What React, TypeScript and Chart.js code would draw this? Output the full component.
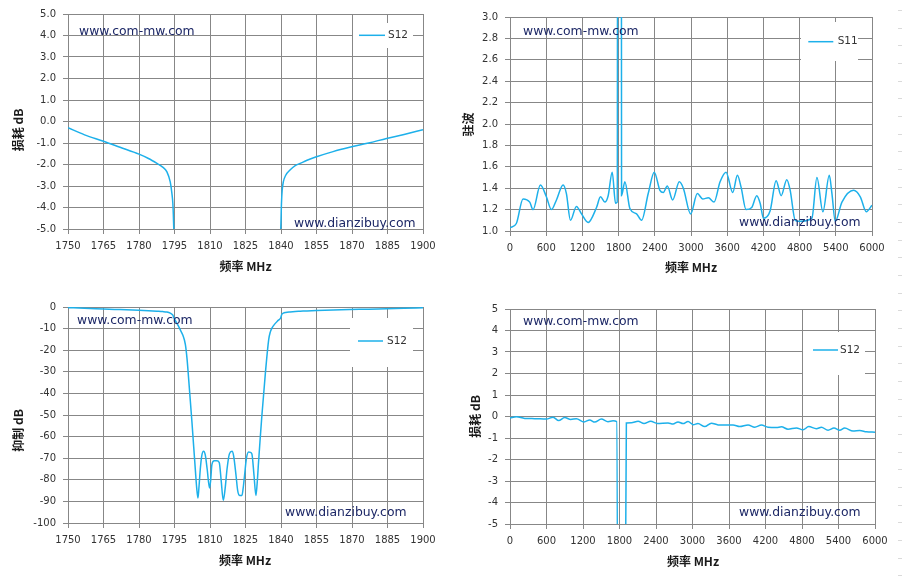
import { useEffect, useRef } from 'react';
import { Chart, registerables } from 'chart.js';

Chart.register(...registerables);

// ---------- data ----------
// narrow-band filter response S12 (dB), 1750-1900 MHz (used by both left charts)
const filterFreq = [1750, 1757, 1765, 1772, 1780, 1784, 1787.6, 1790, 1791.8, 1793.2, 1793.9, 1794.3, 1794.5, 1794.7, 1795.5, 1796.5, 1797.4, 1798.5, 1799.6, 1800.3, 1801.0, 1802.4, 1803.8, 1804.4, 1804.9, 1805.3, 1805.9, 1806.5, 1807.3, 1808.0, 1808.8, 1809.8, 1810.3, 1810.8, 1811.8, 1812.9, 1813.9, 1814.7, 1815.6, 1816.4, 1817.2, 1818.2, 1819.3, 1820.0, 1821.0, 1821.7, 1822.6, 1823.5, 1824.0, 1824.6, 1825.4, 1826.3, 1827.1, 1827.7, 1828.6, 1829.4, 1829.9, 1830.5, 1831.2, 1831.9, 1833.4, 1834.8, 1835.5, 1836.2, 1837.5, 1838.8, 1839.9, 1840.2, 1840.5, 1841, 1842, 1843.8, 1846, 1848.1, 1851, 1855, 1862, 1869, 1877, 1884.6, 1892, 1900];
const filterS12 = [-0.29, -0.62, -0.92, -1.2, -1.52, -1.72, -1.95, -2.12, -2.34, -2.81, -3.34, -3.8, -4.3, -5.0, -6.5, -8.5, -10.5, -13, -17.4, -24, -33.6, -53.7, -75.3, -84, -88.4, -84, -75, -69, -66.8, -68.5, -75, -83.8, -80, -73, -71.2, -71.2, -72, -80, -89.5, -84, -75, -68, -66.8, -69, -78, -85, -87.3, -87.3, -84, -78, -70, -67.1, -67.3, -68, -78, -87.3, -82, -72, -61, -50.6, -30.6, -15.1, -11.5, -9.7, -7.7, -6.2, -5.0, -3.8, -3.2, -2.8, -2.5, -2.26, -2.05, -1.95, -1.8, -1.64, -1.4, -1.2, -1.0, -0.79, -0.6, -0.38];

// wide-band VSWR (S11), 0-6000 MHz
const vswrFreq = [0, 105, 216, 327, 382, 504, 603, 686, 770, 880, 935, 1002, 1101, 1185, 1295, 1434, 1500, 1572, 1627, 1694, 1749, 1777, 1795, 1838, 1849, 1904, 1987, 2098, 2181, 2291, 2391, 2485, 2541, 2607, 2696, 2806, 2873, 2994, 3105, 3194, 3288, 3382, 3482, 3581, 3692, 3769, 3830, 3913, 4007, 4090, 4146, 4201, 4312, 4411, 4494, 4588, 4644, 4727, 4810, 5004, 5087, 5186, 5292, 5336, 5391, 5502, 5696, 5806, 5906, 6000];
const vswrS11 = [1.03, 1.07, 1.30, 1.27, 1.20, 1.43, 1.32, 1.20, 1.29, 1.43, 1.35, 1.10, 1.23, 1.16, 1.08, 1.22, 1.32, 1.27, 1.33, 1.55, 1.26, 1.27, 12, 12, 1.33, 1.46, 1.21, 1.16, 1.10, 1.35, 1.55, 1.38, 1.36, 1.42, 1.29, 1.46, 1.40, 1.16, 1.35, 1.30, 1.31, 1.27, 1.46, 1.55, 1.36, 1.52, 1.41, 1.20, 1.22, 1.33, 1.26, 1.12, 1.19, 1.47, 1.33, 1.48, 1.38, 1.10, 1.09, 1.12, 1.50, 1.18, 1.52, 1.35, 1.09, 1.27, 1.38, 1.32, 1.18, 1.24];

// wide-band loss S12 (dB), 0-6000 MHz
const wideFreq = [0, 105, 242, 406, 598, 708, 800, 899, 998, 1091, 1217, 1310, 1392, 1502, 1611, 1694, 1754, 1795, 1850, 1913, 1996, 2105, 2203, 2313, 2423, 2598, 2680, 2762, 2844, 2927, 3010, 3090, 3201, 3311, 3420, 3530, 3666, 3776, 3913, 4023, 4133, 4242, 4379, 4462, 4570, 4708, 4817, 4910, 5037, 5119, 5228, 5326, 5420, 5502, 5639, 5749, 5859, 6000];
const wideS12 = [-0.07, -0.01, -0.09, -0.1, -0.12, -0.03, -0.19, -0.05, -0.14, -0.1, -0.25, -0.16, -0.26, -0.12, -0.24, -0.2, -0.24, -30, -30, -0.3, -0.29, -0.22, -0.33, -0.22, -0.32, -0.3, -0.35, -0.25, -0.33, -0.23, -0.38, -0.33, -0.47, -0.31, -0.39, -0.4, -0.39, -0.47, -0.39, -0.5, -0.4, -0.5, -0.51, -0.48, -0.59, -0.53, -0.62, -0.47, -0.57, -0.5, -0.64, -0.54, -0.64, -0.54, -0.68, -0.65, -0.71, -0.73];

// axis ranges / labels
const narrowRange = [1750, 1900, 15];
const wideRange = [0, 6000, 600];
const lossNarrowY = [-5, 5, 1];
const vswrY = [1, 3, 0.2];
const rejectY = [-100, 0, 10];
const lossWideY = [-5, 5, 1];
const xTitleText = '频率 MHz';
const watermarkTop = 'www.com-mw.com';
const watermarkBottom = 'www.dianzibuy.com';

// ---------- styles ----------
const LINE = '#1db0ea';
const GRID = '#878787';
const TICK = '#333333';
const MARK = '#1c2766';
const TICK_FONT = { family: '"DejaVu Sans", Verdana, sans-serif', size: 10 };

type Spec = {
  left: number; top: number; width: number; height: number;
  xs: number[]; ys: number[];
  xr: number[]; yr: number[]; yDec: number;
  yAxisW: number; xAxisH: number; padTop: number; padRight: number;
  label: string;
  box: number[]; line: number[]; text: number[];
  marks: [string, number, number][];
  yTitle: string; yTitlePos: number[]; xTitlePos: number[];
};

const specs: Spec[] = [
  {
    left: 0, top: 0, width: 450, height: 288,
    xs: filterFreq, ys: filterS12, xr: narrowRange, yr: lossNarrowY, yDec: 1,
    yAxisW: 68, xAxisH: 59, padTop: 14, padRight: 27,
    label: 'S12', box: [285, 9, 60, 25], line: [291, 317, 21.3], text: [320, 21.5],
    marks: [[watermarkTop, 11, 17.7], [watermarkBottom, 226, 210]],
    yTitle: '损耗 dB', yTitlePos: [-50, 116], xTitlePos: [177.5, 252],
  },
  {
    left: 451, top: 0, width: 451, height: 288,
    xs: vswrFreq, ys: vswrS11, xr: wideRange, yr: vswrY, yDec: 1,
    yAxisW: 59, xAxisH: 57, padTop: 17, padRight: 30,
    label: 'S11', box: [291, 5, 57, 39], line: [298.3, 323.3, 24.7], text: [327.7, 24.7],
    marks: [[watermarkTop, 13, 14.7], [watermarkBottom, 229, 206]],
    yTitle: '驻波', yTitlePos: [-41.7, 107.5], xTitlePos: [181, 250.3],
  },
  {
    left: 0, top: 288, width: 450, height: 289,
    xs: filterFreq, ys: filterS12, xr: narrowRange, yr: rejectY, yDec: 0,
    yAxisW: 68, xAxisH: 54, padTop: 19, padRight: 27,
    label: 'S12', box: [282, 11, 63, 49], line: [290, 315, 34], text: [319, 34],
    marks: [[watermarkTop, 9, 13.7], [watermarkBottom, 217, 206]],
    yTitle: '抑制 dB', yTitlePos: [-50, 123.5], xTitlePos: [177, 253.7],
  },
  {
    left: 451, top: 288, width: 451, height: 289,
    xs: wideFreq, ys: wideS12, xr: wideRange, yr: lossWideY, yDec: 0,
    yAxisW: 59, xAxisH: 53, padTop: 21, padRight: 27,
    label: 'S12', box: [293, 23, 62, 43], line: [303, 328, 41], text: [330, 41],
    marks: [[watermarkTop, 13, 12.7], [watermarkBottom, 229, 204]],
    yTitle: '损耗 dB', yTitlePos: [-35, 107.5], xTitlePos: [183, 252.7],
  },
];

function makeOverlay(s: Spec) {
  return {
    id: 'overlay',
    beforeDatasetsDraw(chart: any) {
      const { ctx, chartArea: a } = chart;
      ctx.save();
      ctx.fillStyle = '#ffffff';
      ctx.fillRect(a.left + s.box[0], a.top + s.box[1], s.box[2], s.box[3]);
      ctx.strokeStyle = LINE;
      ctx.lineWidth = 1.5;
      ctx.beginPath();
      ctx.moveTo(a.left + s.line[0], a.top + s.line[2]);
      ctx.lineTo(a.left + s.line[1], a.top + s.line[2]);
      ctx.stroke();
      ctx.fillStyle = TICK;
      ctx.font = '10.5px "DejaVu Sans", Verdana, sans-serif';
      ctx.textAlign = 'left';
      ctx.textBaseline = 'middle';
      ctx.fillText(s.label, a.left + s.text[0], a.top + s.text[1]);
      ctx.restore();
    },
    afterDatasetsDraw(chart: any) {
      const { ctx, chartArea: a } = chart;
      ctx.save();
      ctx.fillStyle = MARK;
      ctx.font = '12.4px "DejaVu Sans", Verdana, sans-serif';
      ctx.textAlign = 'left';
      ctx.textBaseline = 'middle';
      for (const [t, x, y] of s.marks) ctx.fillText(t, a.left + x, a.top + y);
      ctx.restore();
    },
    afterDraw(chart: any) {
      const { ctx, chartArea: a } = chart;
      ctx.save();
      ctx.fillStyle = '#1a1a1a';
      ctx.font = 'bold 12px "Noto Sans CJK SC", sans-serif';
      ctx.textAlign = 'center';
      ctx.textBaseline = 'middle';
      ctx.fillText(xTitleText, a.left + s.xTitlePos[0], a.top + s.xTitlePos[1]);
      ctx.translate(a.left + s.yTitlePos[0], a.top + s.yTitlePos[1]);
      ctx.rotate(-Math.PI / 2);
      ctx.fillText(s.yTitle, 0, 0);
      ctx.restore();
    },
  };
}

function makeConfig(s: Spec): any {
  return {
    type: 'line',
    data: {
      datasets: [
        {
          label: s.label,
          data: s.xs.map((x, i) => ({ x, y: s.ys[i] })),
          borderColor: LINE,
          borderWidth: 1.5,
          pointRadius: 0,
          cubicInterpolationMode: 'monotone',
          fill: false,
        },
      ],
    },
    options: {
      animation: false,
      responsive: false,
      events: [],
      layout: { padding: { top: s.padTop, right: s.padRight, left: 0, bottom: 0 } },
      plugins: { legend: { display: false }, tooltip: { enabled: false }, title: { display: false } },
      scales: {
        x: {
          type: 'linear',
          min: s.xr[0],
          max: s.xr[1],
          ticks: {
            stepSize: s.xr[2],
            autoSkip: false,
            maxRotation: 0,
            minRotation: 0,
            padding: 6,
            color: TICK,
            font: TICK_FONT,
            callback: (v: any) => String(Math.round(Number(v))),
          },
          grid: { color: GRID, lineWidth: 1, tickLength: 5, drawTicks: true },
          border: { color: GRID, width: 1 },
          afterFit: (sc: any) => { sc.height = s.xAxisH; },
        },
        y: {
          type: 'linear',
          min: s.yr[0],
          max: s.yr[1],
          ticks: {
            stepSize: s.yr[2],
            autoSkip: false,
            maxTicksLimit: 30,
            padding: 7,
            color: TICK,
            font: TICK_FONT,
            callback: (v: any) => Number(v).toFixed(s.yDec),
          },
          grid: { color: GRID, lineWidth: 1, tickLength: 5, drawTicks: true },
          border: { color: GRID, width: 1 },
          afterFit: (sc: any) => { sc.width = s.yAxisW; },
        },
      },
    },
    plugins: [makeOverlay(s)],
  };
}

function ChartBox({ spec }: { spec: Spec }) {
  const ref = useRef<HTMLCanvasElement>(null);
  useEffect(() => {
    const chart = new Chart(ref.current as HTMLCanvasElement, makeConfig(spec));
    return () => chart.destroy();
  }, [spec]);
  return (
    <canvas
      ref={ref}
      width={spec.width}
      height={spec.height}
      style={{ position: 'absolute', left: spec.left, top: spec.top, width: spec.width, height: spec.height }}
    />
  );
}

export default function App() {
  return (
    <div style={{ position: 'fixed', left: 0, top: 0, width: 902, height: 577, background: '#ffffff', overflow: 'hidden' }}>
      {specs.map((s, i) => (
        <ChartBox key={i} spec={s} />
      ))}
      <div
        style={{
          position: 'absolute', left: 898, top: 0, width: 4, height: 577,
          background: 'repeating-linear-gradient(to bottom, transparent 0px, transparent 10px, #dadada 10px, #dadada 11px, transparent 11px, transparent 17.67px)',
        }}
      />
    </div>
  );
}
